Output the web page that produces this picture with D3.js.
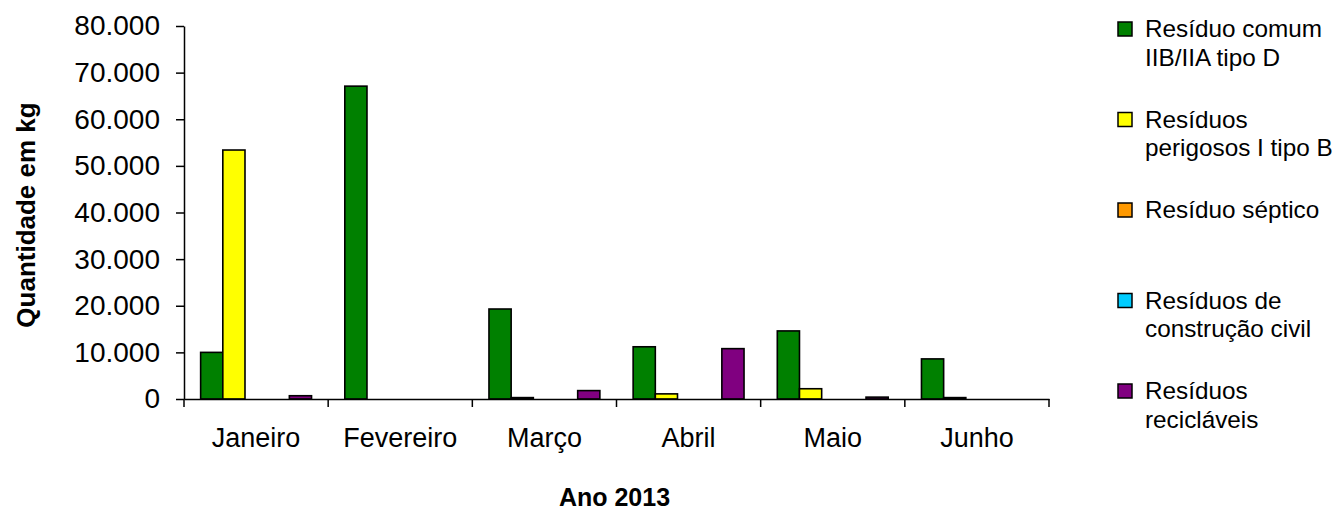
<!DOCTYPE html>
<html>
<head>
<meta charset="utf-8">
<script src="https://cdn.jsdelivr.net/npm/d3@7"></script>
<style>
  html, body { margin: 0; padding: 0; background: #fff; }
  svg { display: block; font-family: "Liberation Sans", Arial, sans-serif; }
</style>
</head>
<body>
<svg id="chart" width="1342" height="511"></svg>
<script>
// Monthly waste quantities (kg), first half of 2013
const months = ["Janeiro", "Fevereiro", "Março", "Abril", "Maio", "Junho"];
const seriesNames = [
  ["Resíduo comum", "IIB/IIA tipo D"],
  ["Resíduos", "perigosos I tipo B"],
  ["Resíduo séptico"],
  ["Resíduos de", "construção civil"],
  ["Resíduos", "recicláveis"]
];
const seriesColors = ["#008000", "#FFFF00", "#FF9900", "#00CCFF", "#800080"];
const comum      = [10000, 67100, 19300, 11200, 14600, 8600];
const perigosos  = [53400, 0, 300, 1100, 2200, 300];
const septico    = [0, 0, 0, 0, 0, 0];
const construcao = [0, 0, 0, 0, 0, 0];
const reciclaveis = [700, 0, 1800, 10800, 400, 0];
const yTicks = [0, 10000, 20000, 30000, 40000, 50000, 60000, 70000, 80000];

const seriesValues = [comum, perigosos, septico, construcao, reciclaveis];

const svg = d3.select("#chart");
const plot = { left: 184, right: 1049, top: 26, bottom: 399 };

const x = d3.scaleBand().domain(months).range([plot.left, plot.right]).padding(0);
const xs = d3.scaleBand().domain(d3.range(seriesValues.length))
  .range([0, x.bandwidth()]).paddingInner(0).paddingOuter(0.75);
const y = d3.scaleLinear().domain([0, 80000]).range([plot.bottom, plot.top]);

const ptBR = d3.formatLocale({ decimal: ",", thousands: ".", grouping: [3], currency: ["", ""] });
const fmt = ptBR.format(",.0f");

// Bars
const rows = months.map((m, i) => ({ month: m, vals: seriesValues.map(s => s[i]) }));
const groups = svg.append("g").selectAll("g").data(rows).join("g")
  .attr("transform", d => `translate(${x(d.month)},0)`);
groups.selectAll("rect")
  .data(d => d.vals.map((v, k) => ({ v, k })).filter(e => e.v > 0))
  .join("rect")
  .attr("x", e => xs(e.k))
  .attr("y", e => y(e.v))
  .attr("width", xs.bandwidth())
  .attr("height", e => y(0) - y(e.v))
  .attr("fill", e => seriesColors[e.k])
  .attr("stroke", "#000")
  .attr("stroke-width", 1.6);

// Y axis
const yAxis = svg.append("g")
  .attr("transform", `translate(${plot.left},0)`)
  .call(d3.axisLeft(y).tickValues(yTicks).tickFormat(fmt).tickSize(8).tickSizeOuter(0).tickPadding(16));
yAxis.select(".domain").attr("stroke", "#000").attr("stroke-width", 1.5);
yAxis.selectAll(".tick line").attr("stroke", "#000").attr("stroke-width", 1.5);
yAxis.selectAll(".tick text").attr("font-size", 28).attr("fill", "#000")
  .attr("font-family", "Liberation Sans, Arial, sans-serif");

// X axis
const xAxis = svg.append("g")
  .attr("transform", `translate(0,${plot.bottom})`)
  .call(d3.axisBottom(x).tickSize(0).tickSizeOuter(0).tickPadding(29));
xAxis.select(".domain").attr("stroke", "#000").attr("stroke-width", 1.5);
xAxis.selectAll(".tick text").attr("font-size", 27).attr("fill", "#000")
  .attr("font-family", "Liberation Sans, Arial, sans-serif");
// Category boundary ticks
const bounds = months.map(m => x(m)).concat([x.range()[1]]);
xAxis.selectAll("line.bound").data(bounds).join("line")
  .attr("class", "bound")
  .attr("x1", d => d).attr("x2", d => d)
  .attr("y1", 0).attr("y2", 8)
  .attr("stroke", "#000").attr("stroke-width", 1.5);

// Axis titles
svg.append("text")
  .attr("x", (plot.left + plot.right) / 2 - 2)
  .attr("y", 506)
  .attr("text-anchor", "middle")
  .attr("font-size", 25).attr("font-weight", "bold")
  .text("Ano 2013");
svg.append("text")
  .attr("transform", `translate(35,215) rotate(-90)`)
  .attr("text-anchor", "middle")
  .attr("font-size", 26).attr("font-weight", "bold")
  .text("Quantidade em kg");

// Legend
const legend = svg.append("g").attr("transform", "translate(1118,0)");
const items = legend.selectAll("g").data(seriesNames).join("g")
  .attr("transform", (d, i) => `translate(0,${37 + i * 90.5})`);
items.append("rect")
  .attr("x", 0).attr("y", -15).attr("width", 14).attr("height", 14)
  .attr("fill", (d, i) => seriesColors[i])
  .attr("stroke", "#000").attr("stroke-width", 1.5);
items.append("text")
  .attr("x", 27).attr("y", 0)
  .attr("font-size", 24.3).attr("fill", "#000")
  .selectAll("tspan").data(d => d).join("tspan")
  .attr("x", 27).attr("dy", (d, i) => i === 0 ? 0 : 28.5)
  .text(d => d);
</script>
</body>
</html>
